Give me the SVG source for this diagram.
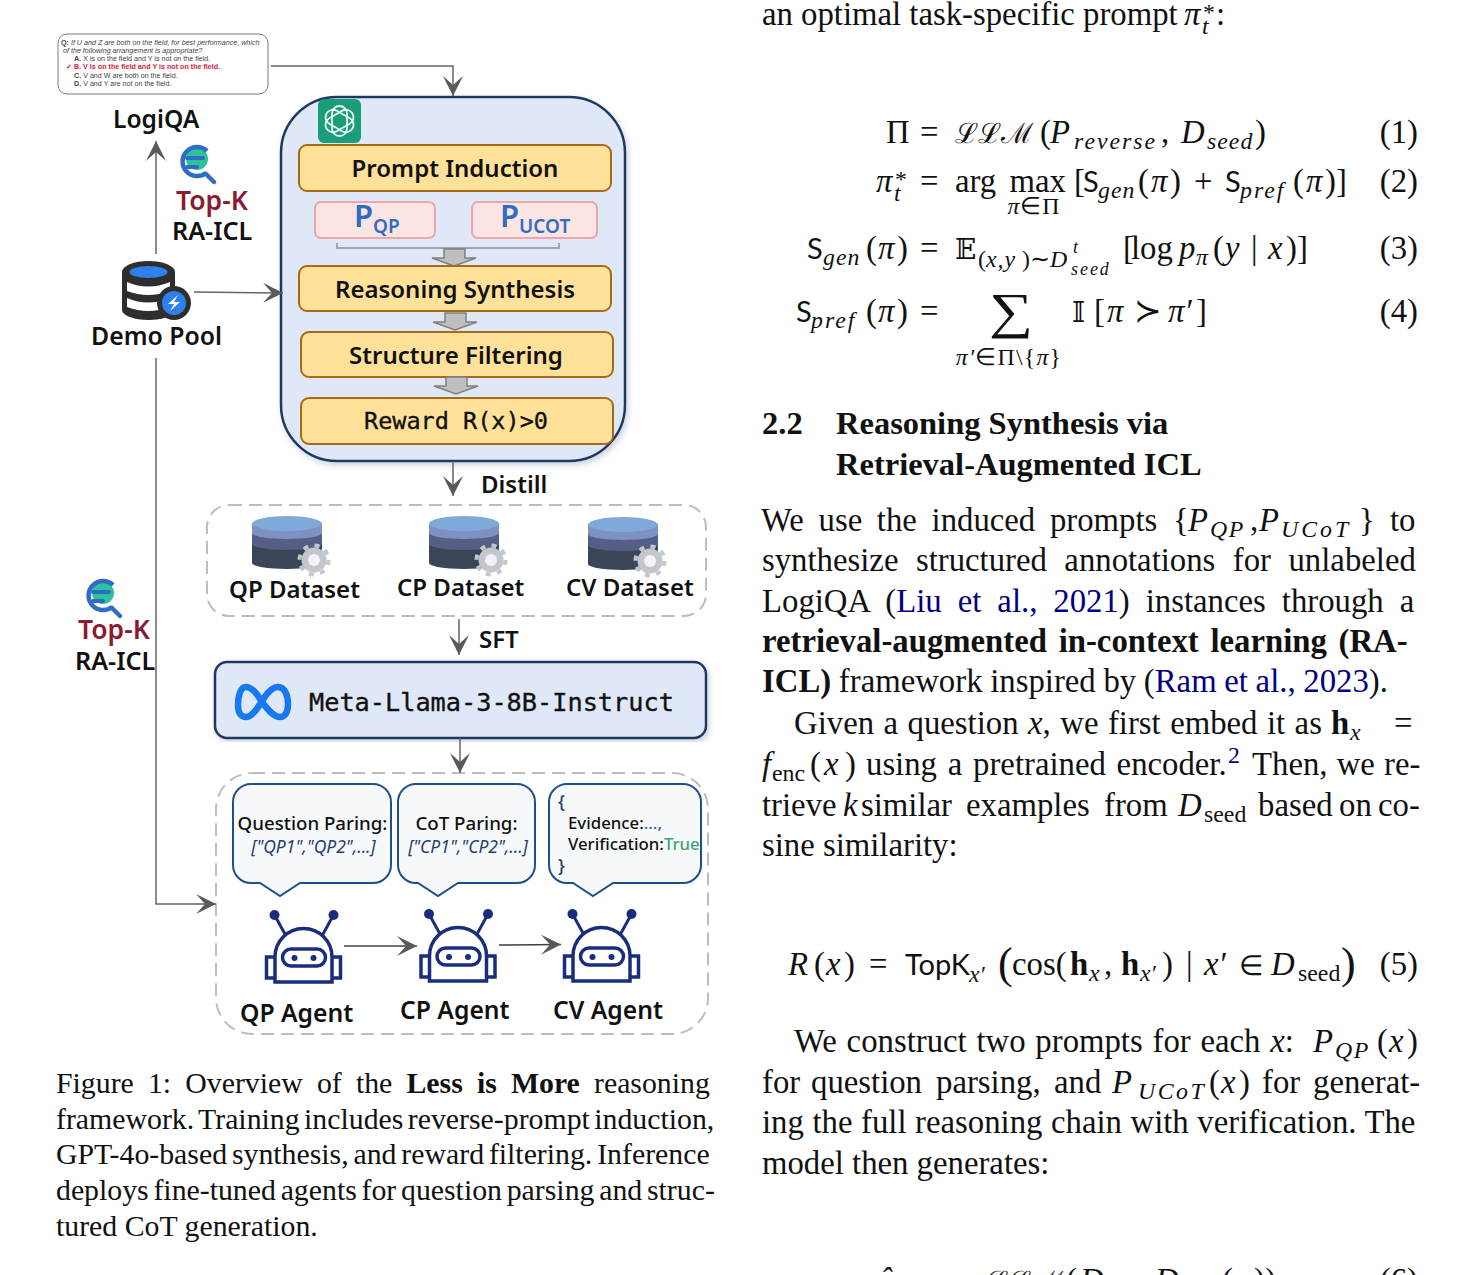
<svg xmlns="http://www.w3.org/2000/svg" xmlns:xlink="http://www.w3.org/1999/xlink" width="1475" height="1275" viewBox="0 0 1475 1275">
<style>
text{white-space:pre}
.l{font-family:"Noto Sans","Open Sans",sans-serif;font-weight:600;font-size:24px;fill:#111}
.tk{font-size:26.500px;fill:#8b1a33}
.ra{font-size:25.200px}
.ag{font-size:24.700px}
.m{font-family:"DejaVu Sans Mono","Liberation Mono",monospace;fill:#111;stroke:#111;stroke-width:.35}
.q{font-family:"Liberation Sans",Arial,sans-serif;font-size:7.150px;fill:#444}
.b{font-family:"Noto Sans","Open Sans",sans-serif;font-weight:500;font-size:18.700px;fill:#111}
.bi{font-family:"Noto Sans","Open Sans",sans-serif;font-style:italic;font-size:17.500px;fill:#24406e}
.p{font-family:"Noto Sans","Open Sans",sans-serif;font-weight:600;fill:#2f6cc4}
.step{fill:#ffe199;stroke:#a86a14;stroke-width:2}
.pk{fill:#fbe5e3;stroke:#eda6ae;stroke-width:2}
.dash{fill:#fff;stroke:#bdbdbd;stroke-width:2;stroke-dasharray:13 7}
.bub{fill:#f7f8fa;stroke:#1f4e8c;stroke-width:2}
.arw{fill:none;stroke:#666;stroke-width:1.500;marker-end:url(#a)}
.ba{fill:#bfbfbf;stroke:#808080;stroke-width:1.500}
.t{font-family:"Liberation Serif","Times New Roman",serif;font-size:32.750px;fill:#111}
.c{font-family:"Liberation Serif","Times New Roman",serif;font-size:29.800px;fill:#111}
.h{font-family:"Liberation Serif","Times New Roman",serif;font-size:32.500px;font-weight:bold;fill:#111}
.i{font-style:italic}
.bd{font-weight:bold}
.s{font-size:23.800px}
.ss{font-size:17.900px}
.sf{font-family:Lato,"Liberation Sans",sans-serif;font-size:29px}
.dv{font-family:"DejaVu Serif",serif;font-size:28px}
.lk{fill:#000080}
</style>
<defs>
<marker id="a" markerUnits="userSpaceOnUse" markerWidth="20" markerHeight="20" refX="20" refY="10" orient="auto"><path d="M0 0L20 10L0 20L9 10Z" fill="#5a5a5a"/></marker>
<filter id="sh" x="-5%" y="-5%" width="110%" height="110%"><feDropShadow dx="2" dy="3" stdDeviation="3" flood-color="#8a9bb8" flood-opacity=".45"/></filter>
<g id="mag">
<circle cx="0" cy="-5" r="11" fill="#2cc39a"/>
<path d="M9 9A14.500 14.500 0 1 1 10 -13" fill="none" stroke="#2f6cc4" stroke-width="4.500"/>
<path d="M-10 -6H6M-10 3H0" stroke="#2f6cc4" stroke-width="4" stroke-linecap="round"/>
<path d="M9 10L17 18" stroke="#2f6cc4" stroke-width="4.500" stroke-linecap="round"/>
</g>
<g id="cyl">
<path d="M0 28V47A35 6 0 0 0 70 47V28Z" fill="#3a4658"/>
<path d="M0 17V28A35 6 0 0 0 70 28V17Z" fill="#555f85"/>
<path d="M0 7.500V17A35 6 0 0 0 70 17V7.500Z" fill="#7f90c5"/>
<ellipse cx="35" cy="7.500" rx="35" ry="7.500" fill="#7fa9d8"/>
<circle cx="62" cy="44" r="12.500" fill="#c3c7cc"/>
<circle cx="62" cy="44" r="14.500" fill="none" stroke="#c3c7cc" stroke-width="4" stroke-dasharray="5 6.400"/>
<circle cx="62" cy="44" r="6" fill="#f2f3f4"/>
</g>
<g id="robot" fill="none" stroke="#1a2d7c" stroke-width="3">
<path d="M-28.500 54V29A28.500 28.500 0 0 1 28.500 29V54Z" stroke-width="3.500"/>
<path d="M-28.500 29H-37V50H-28.500M28.500 29H37V50H28.500" stroke-width="3.500"/>
<rect x="-21" y="21" width="43" height="17" rx="8.500" stroke-width="3.500"/>
<path d="M-18 7L-29 -13M19 7L30 -13"/>
<g fill="#1a2d7c" stroke="none"><circle cx="-29" cy="-13" r="5"/><circle cx="30" cy="-13" r="5"/><circle cx="-9" cy="30" r="3"/><circle cx="10" cy="30" r="3"/></g>
</g>
</defs>
<rect width="1475" height="1275" fill="#fff"/>

<g id="question-box">
<rect x="58" y="34" width="210" height="60" rx="9" fill="#fff" stroke="#7a7a7a" stroke-width="1"/>
<text class="q" x="61" y="45"><tspan font-weight="bold">Q:</tspan><tspan font-style="italic"> If U and Z are both on the field, for best performance, which</tspan></text>
<text class="q" x="63" y="53" font-style="italic">of the following arrangement is appropriate?</text>
<text class="q" x="74" y="61"><tspan font-weight="bold">A.</tspan> X is on the field and Y is not on the field.</text>
<text class="q" x="66" y="69" style="fill:#d6203a;font-weight:bold">✓ B. V is on the field and Y is not on the field.</text>
<text class="q" x="74" y="78"><tspan font-weight="bold">C.</tspan> V and W are both on the field.</text>
<text class="q" x="74" y="86"><tspan font-weight="bold">D.</tspan> V and Y are not on the field.</text>
</g>
<g id="logiqa"><text class="l" x="113" y="128" style="font-size:24.600px">LogiQA</text></g>
<g id="topk-top">
<use href="#mag" x="197" y="164"/>
<text class="l tk" x="176" y="210">Top-K</text>
<text class="l ra" x="172" y="240">RA-ICL</text>
</g>
<g id="demo-pool">
<path d="M122 272A26.500 11 0 0 1 175 272V310A26.500 10 0 0 1 122 310Z" fill="#2e2e2e"/>
<ellipse cx="148.500" cy="272" rx="19" ry="6" fill="#2f80ed"/>
<path d="M127 282Q148 291 170 282V291Q148 299 127 291Z" fill="#fff"/>
<path d="M127 298Q148 307 170 298V307Q148 315 127 307Z" fill="#fff"/>
<circle cx="174" cy="303" r="17" fill="#2e2e2e"/>
<circle cx="174" cy="303" r="12" fill="#2f80ed"/>
<path d="M178 295L168 304H174L170 311L180 302H174Z" fill="#fff"/>
<text class="l" x="91" y="345" style="font-size:24.800px">Demo Pool</text>
</g>
<g id="topk-left">
<use href="#mag" x="103" y="598"/>
<text class="l tk" x="78" y="639">Top-K</text>
<text class="l ra" x="75" y="670">RA-ICL</text>
</g>

<g id="training-box">
<rect x="281" y="97" width="344" height="364" rx="56" fill="#dfe8f7" stroke="#1f3864" stroke-width="2.500" filter="url(#sh)"/>
<g id="gpt-logo">
<rect x="318" y="99" width="43" height="44" rx="6" fill="#1a9e7a"/>
<g fill="none" stroke="#e8f7f2" stroke-width="1.800">
<rect x="332" y="106" width="15" height="30" rx="7.500" transform="rotate(0 339.500 121)"/>
<rect x="332" y="106" width="15" height="30" rx="7.500" transform="rotate(60 339.500 121)"/>
<rect x="332" y="106" width="15" height="30" rx="7.500" transform="rotate(120 339.500 121)"/>
</g>
</g>
<g id="prompt-induction"><rect class="step" x="299" y="145" width="312" height="46" rx="8"/><text class="l" x="455" y="177" text-anchor="middle">Prompt Induction</text></g>
<g id="p-qp"><rect class="pk" x="315" y="202" width="120" height="36" rx="6"/><text class="p" x="354" y="227" font-size="31">P<tspan font-size="19" dy="6">QP</tspan></text></g>
<g id="p-ucot"><rect class="pk" x="472" y="202" width="125" height="36" rx="6"/><text class="p" x="500" y="227" font-size="31">P<tspan font-size="19" dy="6">UCOT</tspan></text></g>
<path d="M337 243V248H559V243" fill="none" stroke="#a0a4ad" stroke-width="2"/>
<path class="ba" d="M444 249H465V258H476L454 266L432 258H444Z"/>
<g id="reasoning-synthesis"><rect class="step" x="299" y="266" width="312" height="45" rx="8"/><text class="l" x="455" y="298" text-anchor="middle">Reasoning Synthesis</text></g>
<path class="ba" d="M445 313H466V322H477L455 330L433 322H445Z"/>
<g id="structure-filtering"><rect class="step" x="301" y="332" width="312" height="45" rx="8"/><text class="l" x="456" y="364" text-anchor="middle">Structure Filtering</text></g>
<path class="ba" d="M446 377H467V386H478L456 394L434 386H446Z"/>
<g id="reward"><rect class="step" x="301" y="398" width="312" height="46" rx="8"/><text class="m" x="364" y="429" font-size="23.500">Reward R(x)&gt;0</text></g>
</g>

<g id="datasets">
<rect class="dash" x="207" y="505" width="499" height="111" rx="22"/>
<g id="qp-dataset"><use href="#cyl" x="252" y="516"/><text class="l" x="229" y="598">QP Dataset</text></g>
<g id="cp-dataset"><use href="#cyl" x="429" y="516"/><text class="l" x="397" y="596">CP Dataset</text></g>
<g id="cv-dataset"><use href="#cyl" x="588" y="517"/><text class="l" x="566" y="596">CV Dataset</text></g>
</g>
<text class="l" x="481" y="493">Distill</text>
<text class="l" x="479" y="648">SFT</text>

<g id="llama">
<rect x="215" y="662" width="491" height="76" rx="12" fill="#dfe8f7" stroke="#1f3864" stroke-width="2.500" filter="url(#sh)"/>
<path d="M262 702C255 690 250 687 246 687C240 687 238 697 238 705C238 713 241 717 246 717C252 717 258 708 264 698C270 689 274 687 278 687C285 687 288 696 288 704C288 712 285 717 280 717C274 717 268 710 262 702Z" fill="none" stroke="#1877f2" stroke-width="6.500"/>
<text class="m" x="309" y="711" font-size="25.250">Meta-Llama-3-8B-Instruct</text>
</g>

<g id="agents">
<rect class="dash" x="216" y="773" width="492" height="261" rx="36"/>
<g id="bubble-qp"><path class="bub" d="M251 784H373A18 18 0 0 1 391 802V865A18 18 0 0 1 373 883H300L280 896L260 883H251A18 18 0 0 1 233 865V802A18 18 0 0 1 251 784Z"/>
<text class="b" x="312.500" y="830" text-anchor="middle">Question Paring:</text><text class="bi" x="313.500" y="853" text-anchor="middle">["QP1","QP2",...]</text></g>
<g id="bubble-cp"><path class="bub" d="M416 784H517A18 18 0 0 1 535 802V865A18 18 0 0 1 517 883H458L438 896L418 883H416A18 18 0 0 1 398 865V802A18 18 0 0 1 416 784Z"/>
<text class="b" x="466.500" y="830" text-anchor="middle">CoT Paring:</text><text class="bi" x="468" y="853" text-anchor="middle">["CP1","CP2",...]</text></g>
<g id="bubble-cv"><path class="bub" d="M567 784H683A18 18 0 0 1 701 802V865A18 18 0 0 1 683 883H613L593 896L573 883H567A18 18 0 0 1 549 865V802A18 18 0 0 1 567 784Z"/>
<text class="b" x="558" y="808" style="fill:#24406e;font-size:18px">{</text>
<text class="b" x="568" y="829" style="font-size:16.800px">Evidence:<tspan fill="#2f5fb0">...,</tspan></text>
<text class="b" x="568" y="850" style="font-size:16.800px">Verification:<tspan fill="#3da66f">True</tspan></text>
<text class="b" x="558" y="872" style="fill:#24406e;font-size:18px">}</text></g>
<g id="qp-agent"><use href="#robot" x="303.500" y="928"/><text class="l ag" x="240" y="1022">QP Agent</text></g>
<g id="cp-agent"><use href="#robot" x="458" y="927"/><text class="l ag" x="400" y="1019">CP Agent</text></g>
<g id="cv-agent"><use href="#robot" x="601.500" y="927"/><text class="l ag" x="553" y="1019">CV Agent</text></g>
</g>

<g id="connectors">
<path class="arw" d="M271 66H453V96"/>
<path class="arw" d="M156 254V141"/>
<path class="arw" d="M194 292L283 293"/>
<path class="arw" d="M156 358V904H216"/>
<path class="arw" d="M453 461V496"/>
<path class="arw" d="M459 619V655"/>
<path class="arw" d="M460 738V773"/>
<path class="arw" d="M344 946H417" style="stroke:#404040"/>
<path class="arw" d="M499 945L561 944.500" style="stroke:#404040"/>
</g>

<text class="c" x="56" y="1093" word-spacing="6.700">Figure 1: Overview of the <tspan class="bd">Less is More</tspan> reasoning</text>
<text class="c" x="56" y="1129" word-spacing="-3">framework. Training includes reverse-prompt induction,</text>
<text class="c" x="56" y="1164" word-spacing="-2.600">GPT-4o-based synthesis, and reward filtering. Inference</text>
<text class="c" x="56" y="1200" word-spacing="-2.700">deploys fine-tuned agents for question parsing and struc-</text>
<text class="c" x="56" y="1236">tured CoT generation.</text>

<text class="t" x="762" y="25">an optimal task-specific prompt<tspan class="i" x="1184">π</tspan><tspan class="s" x="1203" y="20">*</tspan><tspan class="s i" x="1202" y="34">t</tspan><tspan x="1216" y="25">:</tspan></text>

<text class="t" y="143"><tspan x="886">Π</tspan><tspan x="920">=</tspan><tspan class="dv" x="955">ℒℒℳ</tspan><tspan x="1040">(</tspan><tspan class="i" x="1050">P</tspan><tspan class="s i" x="1074" y="149" letter-spacing="2">reverse</tspan><tspan x="1161" y="143">,</tspan><tspan class="i" x="1181">D</tspan><tspan class="s i" x="1207" y="149" letter-spacing="1">seed</tspan><tspan x="1255" y="143">)</tspan></text>
<text class="t" x="1418" y="143" text-anchor="end">(1)</text>

<text class="t" y="192"><tspan class="i" x="876">π</tspan><tspan class="s" x="895" y="187">*</tspan><tspan class="s i" x="894" y="201">t</tspan><tspan x="920" y="192">=</tspan><tspan x="955" word-spacing="5">arg max</tspan><tspan x="1074">[</tspan><tspan class="sf" x="1083">S</tspan><tspan class="s i" x="1098" y="198" letter-spacing="1">gen</tspan><tspan x="1138" y="192">(</tspan><tspan class="i" x="1151">π</tspan><tspan x="1170">)</tspan><tspan x="1194">+</tspan><tspan class="sf" x="1225">S</tspan><tspan class="s i" x="1240" y="198" letter-spacing="2">pref</tspan><tspan x="1293" y="192">(</tspan><tspan class="i" x="1306">π</tspan><tspan x="1325">)</tspan><tspan x="1336">]</tspan></text>
<text class="t s" x="1034" y="214" text-anchor="middle" letter-spacing="1"><tspan class="i">π</tspan>∈Π</text>
<text class="t" x="1418" y="192" text-anchor="end">(2)</text>

<text class="t" y="259"><tspan class="sf" x="807">S</tspan><tspan class="s i" x="823" y="265" letter-spacing="1">gen</tspan><tspan x="866" y="259">(</tspan><tspan class="i" x="878">π</tspan><tspan x="897">)</tspan><tspan x="920">=</tspan><tspan class="dv" x="955">𝔼</tspan><tspan class="s" x="978" y="267">(</tspan><tspan class="s i" x="986" y="267" letter-spacing="1">x,y</tspan><tspan class="s" x="1022" y="267">)∼</tspan><tspan class="s i" x="1050" y="267">D</tspan><tspan class="ss i" x="1073" y="253">t</tspan><tspan class="ss i" x="1071" y="275" letter-spacing="2">seed</tspan><tspan x="1123" y="259">[</tspan><tspan x="1131">log</tspan><tspan class="i" x="1179">p</tspan><tspan class="s i" x="1196" y="265">π</tspan><tspan x="1213" y="259">(</tspan><tspan class="i" x="1225">y</tspan><tspan x="1251">|</tspan><tspan class="i" x="1268">x</tspan><tspan x="1286">)</tspan><tspan x="1297">]</tspan></text>
<text class="t" x="1418" y="259" text-anchor="end">(3)</text>

<text class="t" y="322"><tspan class="sf" x="796">S</tspan><tspan class="s i" x="811" y="328" letter-spacing="2">pref</tspan><tspan x="866" y="322">(</tspan><tspan class="i" x="878">π</tspan><tspan x="897">)</tspan><tspan x="920">=</tspan></text>
<text class="t" x="989" y="328" textLength="44" lengthAdjust="spacingAndGlyphs" style="font-size:50px">∑</text>
<text class="t s" x="1009" y="365" text-anchor="middle" letter-spacing="1.200"><tspan class="i">π′</tspan>∈Π\{<tspan class="i">π</tspan>}</text>
<text class="t" y="322"><tspan class="dv" x="1072">𝕀</tspan><tspan x="1094">[</tspan><tspan class="i" x="1107">π</tspan><tspan x="1134">≻</tspan><tspan class="i" x="1168">π′</tspan><tspan x="1196">]</tspan></text>
<text class="t" x="1418" y="322" text-anchor="end">(4)</text>

<text class="h"><tspan x="762" y="434">2.2</tspan><tspan x="836" y="434">Reasoning Synthesis via</tspan><tspan x="836" y="475">Retrieval-Augmented ICL</tspan></text>

<text class="t" y="531" word-spacing="6.500"><tspan x="761">We use the induced prompts</tspan><tspan x="1173">{</tspan><tspan class="i" x="1188">P</tspan><tspan class="s i" x="1210" y="537" letter-spacing="1.500">QP</tspan><tspan x="1250" y="531">,</tspan><tspan class="i" x="1259">P</tspan><tspan class="s i" x="1281" y="537" letter-spacing="3">UCoT</tspan><tspan x="1359" y="531">}</tspan><tspan x="1390">to</tspan></text>
<text class="t" x="762" y="571" word-spacing="9.300">synthesize structured annotations for unlabeled</text>
<text class="t" x="762" y="612" word-spacing="7.800">LogiQA (<tspan class="lk">Liu et al.,</tspan> <tspan class="lk">2021</tspan>) instances through a</text>
<text class="t bd" x="762" y="652" word-spacing="3.500">retrieval-augmented in-context learning (RA-</text>
<text class="t" x="762" y="692" word-spacing="-0.500"><tspan class="bd">ICL)</tspan> framework inspired by (<tspan class="lk">Ram et al.,</tspan> <tspan class="lk">2023</tspan>).</text>
<text class="t" y="734" word-spacing="1.300"><tspan x="794">Given a question </tspan><tspan class="i">x</tspan>, we first embed it as <tspan class="bd" x="1331">h</tspan><tspan class="s i" x="1350" y="740">x</tspan><tspan x="1394" y="734">=</tspan></text>
<text class="t" y="775"><tspan class="i" x="762">f</tspan><tspan class="s" x="772" y="781">enc</tspan><tspan x="810" y="775">(</tspan><tspan class="i" x="824">x</tspan><tspan x="845">)</tspan><tspan x="866" word-spacing="2.600">using a pretrained encoder.</tspan><tspan class="s lk" x="1228" y="763">2</tspan><tspan x="1252" y="775" word-spacing="1">Then, we re-</tspan></text>
<text class="t" y="816"><tspan x="762">trieve</tspan><tspan class="i" x="843">k</tspan><tspan x="861">similar</tspan><tspan x="966">examples</tspan><tspan x="1104">from</tspan><tspan class="i" x="1178">D</tspan><tspan class="s" x="1204" y="822">seed</tspan><tspan x="1258" y="816">based</tspan><tspan x="1339">on</tspan><tspan x="1378">co-</tspan></text>
<text class="t" x="762" y="856">sine similarity:</text>

<text class="t" y="975"><tspan class="i" x="788">R</tspan><tspan x="814">(</tspan><tspan class="i" x="826">x</tspan><tspan x="844">)</tspan><tspan x="869">=</tspan><tspan class="sf" x="905">TopK</tspan><tspan class="s i" x="969" y="982">x′</tspan><tspan x="998" y="978" style="font-size:44px">(</tspan><tspan x="1012" y="975">cos(</tspan><tspan class="bd" x="1070">h</tspan><tspan class="s i" x="1089" y="981">x</tspan><tspan x="1104" y="975">,</tspan><tspan class="bd" x="1121">h</tspan><tspan class="s i" x="1140" y="981">x′</tspan><tspan x="1162" y="975">)</tspan><tspan x="1186">|</tspan><tspan class="i" x="1204">x′</tspan><tspan x="1239" style="font-size:28px">∈</tspan><tspan class="i" x="1271">D</tspan><tspan class="s" x="1298" y="981">seed</tspan><tspan x="1341" y="978" style="font-size:44px">)</tspan></text>
<text class="t" x="1418" y="975" text-anchor="end">(5)</text>

<text class="t" y="1052" word-spacing="1.600"><tspan x="794">We construct two prompts for each </tspan><tspan class="i">x</tspan>:<tspan class="i" x="1313">P</tspan><tspan class="s i" x="1335" y="1058" letter-spacing="1.500">QP</tspan><tspan x="1377" y="1052">(</tspan><tspan class="i" x="1389">x</tspan><tspan x="1407">)</tspan></text>
<text class="t" y="1093"><tspan x="762">for</tspan><tspan x="811">question</tspan><tspan x="936">parsing,</tspan><tspan x="1054">and</tspan><tspan class="i" x="1112">P</tspan><tspan class="s i" x="1138" y="1099" letter-spacing="2.500">UCoT</tspan><tspan x="1209" y="1093">(</tspan><tspan class="i" x="1221">x</tspan><tspan x="1239">)</tspan><tspan x="1262">for</tspan><tspan x="1313">generat-</tspan></text>
<text class="t" x="762" y="1133" word-spacing="0.400">ing the full reasoning chain with verification. The</text>
<text class="t" x="762" y="1174">model then generates:</text>

<text class="t" y="1291"><tspan class="i" x="879">ŷ</tspan><tspan class="dv" x="985">ℒℒℳ</tspan><tspan x="1066">(</tspan><tspan class="i" x="1080">D</tspan><tspan x="1155" class="i">D</tspan><tspan x="1222">(</tspan><tspan class="i" x="1234">x</tspan><tspan x="1254">))</tspan></text>
<text class="t" x="1418" y="1291" text-anchor="end">(6)</text>
</svg>
